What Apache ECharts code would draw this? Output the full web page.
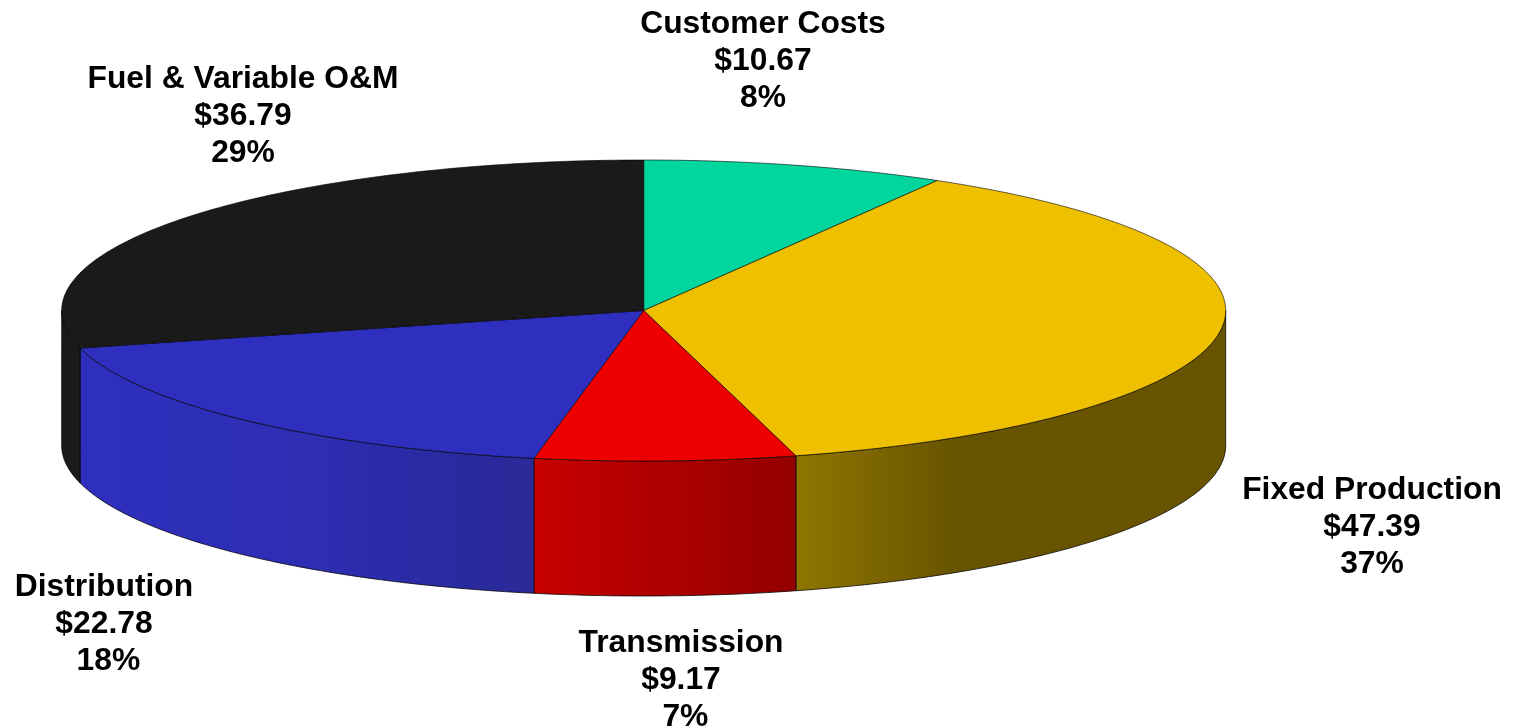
<!DOCTYPE html>
<html>
<head>
<meta charset="utf-8">
<title>Cost breakdown</title>
<script src="https://cdn.jsdelivr.net/npm/echarts@6/dist/echarts.min.js"></script>
<style>
  html, body { margin: 0; height: 100%; background: #fff; }
  #chart { width: 1518px; height: 727px; }
</style>
</head>
<body>
<div id="chart"></div>
<script>
// clockwise from 12 o'clock
const categories = ['Customer Costs', 'Fixed Production', 'Transmission', 'Distribution', 'Fuel & Variable O&M']
const costs = [10.67, 47.39, 9.17, 22.78, 36.79]
const percents = [8, 37, 7, 18, 29]

const topColors = ['#00d69e', '#eec000', '#ee0000', '#2e2fbe', '#1a1a1a']
const wallStops = [
  [[0, '#00d69e'], [1, '#00d69e']],
  [[0, '#8f7600'], [0.38, '#675300'], [1, '#675300']],
  [[0, '#c80000'], [1, '#930000']],
  [[0, '#2e2fbe'], [0.5, '#2d2eb2'], [0.8, '#2a2aa2'], [1, '#2a2a98']],
  [[0, '#1a1a1a'], [1, '#1a1a1a']]
]
const labelCenters = [[763, 24], [1372, 490], [681, 643], [104, 587], [243, 79]]

const cx = 643.7
const cy = 310.5
const rx = 582
const ry = 150.5
const depth = 135
const total = costs.reduce((a, b) => a + b, 0)
const edge = 'rgba(0,0,0,0.75)'

function pointAt(deg, dy) {
  const r = deg * Math.PI / 180
  return [cx + rx * Math.sin(r), cy - ry * Math.cos(r) + (dy || 0)]
}

function arc(from, to, dy) {
  const pts = []
  const n = Math.max(2, Math.ceil(Math.abs(to - from)))
  for (let i = 0; i <= n; i++) {
    pts.push(pointAt(from + (to - from) * i / n, dy))
  }
  return pts
}

function sliceRange(idx) {
  let before = 0
  for (let i = 0; i < idx; i++) before += costs[i]
  return [before / total * 360, (before + costs[idx]) / total * 360]
}

const chart = echarts.init(document.getElementById('chart'))

chart.setOption({
  animation: false,
  series: [
    // walls first so that the tops sit over their edges
    {
      type: 'custom',
      coordinateSystem: 'none',
      silent: true,
      z: 1,
      data: costs,
      renderItem(params) {
        const idx = params.dataIndex
        const range = sliceRange(idx)
        const from = Math.max(range[0], 90)
        const to = Math.min(range[1], 270)
        if (to <= from) return null
        const top = arc(from, to, 0)
        const bottom = arc(to, from, depth)
        const xs = top.map(p => p[0])
        return {
          type: 'polygon',
          shape: { points: top.concat(bottom) },
          style: {
            fill: {
              type: 'linear',
              global: true,
              x: Math.min(...xs),
              y: 0,
              x2: Math.max(...xs),
              y2: 0,
              colorStops: wallStops[idx].map(s => ({ offset: s[0], color: s[1] }))
            },
            stroke: edge,
            lineWidth: 1
          }
        }
      }
    },
    {
      type: 'custom',
      coordinateSystem: 'none',
      z: 2,
      data: categories.map((name, i) => ({ name: name, value: costs[i] })),
      renderItem(params) {
        const idx = params.dataIndex
        const range = sliceRange(idx)
        return {
          type: 'polygon',
          shape: { points: [[cx, cy]].concat(arc(range[0], range[1], 0)) },
          style: { fill: topColors[idx], stroke: edge, lineWidth: 0.8 }
        }
      }
    },
    {
      type: 'custom',
      coordinateSystem: 'none',
      silent: true,
      z: 3,
      data: categories,
      renderItem(params) {
        const idx = params.dataIndex
        // the two lower labels have their percent nudged right by a leading space
        const pad = idx === 2 || idx === 3 ? ' ' : ''
        return {
          type: 'text',
          x: labelCenters[idx][0],
          y: labelCenters[idx][1] - 18,
          style: {
            text: categories[idx] + '\n$' + costs[idx].toFixed(2) + '\n' + pad + percents[idx] + '%',
            fill: '#000',
            font: 'bold 31.8px "Liberation Sans", Arial, sans-serif',
            align: 'center',
            verticalAlign: 'top',
            lineHeight: 37
          }
        }
      }
    }
  ]
})
</script>
</body>
</html>
